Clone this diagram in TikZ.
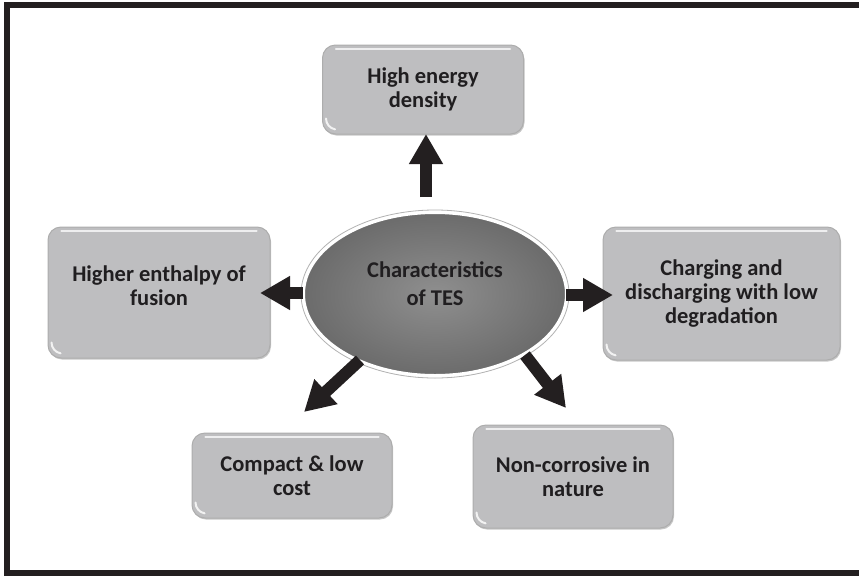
\documentclass[tikz,border=0pt]{standalone}
\usepackage{fontspec}
\setmainfont{Carlito}
\usetikzlibrary{arrows.meta,shapes.geometric,shadows}
\definecolor{ink}{RGB}{35,31,32}
\definecolor{boxgray}{RGB}{190,190,192}
\definecolor{txt}{RGB}{32,30,32}
\tikzset{
  feat/.style={rounded corners=13pt, fill=boxgray, draw=black!32, line width=1pt,
    align=center, font=\fontsize{22.5}{24}\selectfont\bfseries, text=txt, inner sep=0pt,
    drop shadow={shadow xshift=1pt, shadow yshift=-1.5pt, opacity=0.22, fill=black}},
  lbl/.style={align=center, font=\fontsize{22.5}{24}\selectfont\bfseries, text=txt, inner sep=0pt},
  fat/.style={draw=ink, line width=12pt, -{Triangle[width=32pt,length=30pt]}},
  gloss/.style={white, opacity=0.75, line width=2.5pt, line cap=round},
}
\begin{document}
\begin{tikzpicture}[x=1pt,y=-1pt]
\useasboundingbox (0,0) rectangle (859,576);
\fill[white] (0,0) rectangle (859,576);
\draw[ink, line width=6pt] (7,4.5) rectangle (866,573);

% boxes
\node[feat, minimum width=201pt, minimum height=89pt] (top) at (423,89.5) {High energy\\density};
\node[feat, minimum width=222pt, minimum height=131pt] (lft) at (159,292.5) {};
\node[lbl] (lfttext) at (159,286) {Higher enthalpy of\\fusion};
\node[feat, minimum width=237pt, minimum height=133pt] (rgt) at (721.5,293.5) {Charging and\\discharging with low\\degradation};
\node[feat, minimum width=200pt, minimum height=85pt] (bl) at (292,475.5) {Compact \& low\\cost};
\node[feat, minimum width=200pt, minimum height=103pt] (br) at (573,476.5) {Non-corrosive in\\nature};

\foreach \n in {top,lft,rgt,bl,br}{
  \draw[gloss] ([xshift=14pt,yshift=-4.5pt]\n.north west) -- ([xshift=-14pt,yshift=-4.5pt]\n.north east);
  \draw[white, opacity=0.8, line width=2pt, line cap=round] ([xshift=4pt,yshift=16pt]\n.south west) arc[start angle=180, end angle=260, radius=11pt];
}

% central ellipse
\node[ellipse, minimum width=264pt, minimum height=164pt, draw=white, line width=4pt,
  inner color=black!44, outer color=black!58,
  drop shadow={shadow xshift=0pt, shadow yshift=-2pt, opacity=0.3, fill=black}] (ell) at (435,294) {};
\draw[black!30, line width=0.8pt] (ell.center) ellipse[x radius=134pt, y radius=84pt];
\node[align=center, font=\fontsize{22.5}{28}\selectfont\bfseries, text=txt] (ctext) at (435,284) {Characteristics\\of TES};

% arrows
\coordinate (uS) at (426,197); \coordinate (uE) at (426,134);
\coordinate (lS) at (303,293); \coordinate (lE) at (260,293);
\coordinate (rS) at (566,295); \coordinate (rE) at (613,295);
\coordinate (blS) at (360,360); \coordinate (blE) at (304,412);
\coordinate (brS) at (525,355); \coordinate (brE) at (566,408);
\draw[fat] (uS) -- (uE);
\draw[fat] (lS) -- (lE);
\draw[fat] (rS) -- (rE);
\draw[fat] (blS) -- (blE);
\draw[fat] (brS) -- (brE);
\end{tikzpicture}
\end{document}
